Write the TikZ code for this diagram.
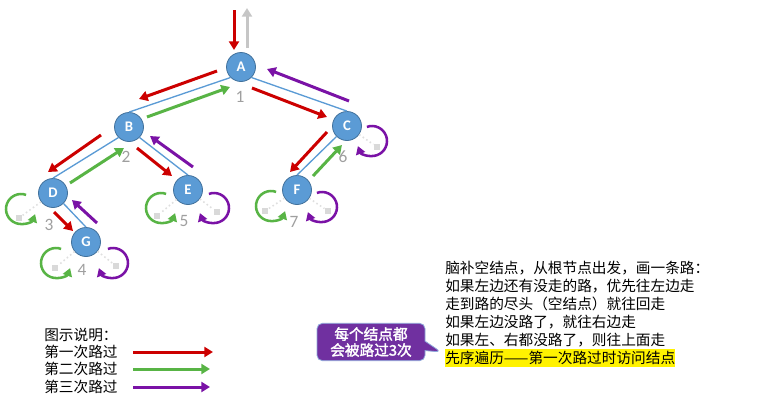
\documentclass[tikz,border=0pt]{standalone}
\usepackage{fontspec}
\setmainfont{Carlito}
\newfontfamily\cjk{Noto Sans CJK SC}
\newfontfamily\cjkbold[FakeBold=2]{Noto Sans CJK SC}
\usepackage{xcolor}
\usetikzlibrary{arrows.meta, calc, positioning, shapes.callouts}

\definecolor{nodeblue}{HTML}{5B9BD5}
\definecolor{nodeline}{HTML}{41719C}
\definecolor{passred}{HTML}{CC0000}
\definecolor{passgreen}{HTML}{58B445}
\definecolor{passpurple}{HTML}{7A12A6}
\definecolor{calloutfill}{HTML}{7030A0}
\definecolor{calloutline}{HTML}{8EA9DB}

\newcommand{\hilite}[1]{{\setlength{\fboxsep}{0pt}\colorbox{yellow}{\rule[-3pt]{0pt}{13.5pt}#1}}}

\tikzset{
    treenode/.style={circle, fill=nodeblue, draw=nodeline, line width=0.6pt, minimum size=21.75pt, inner sep=0pt, text=white, font=\bfseries\fontsize{11}{11}\selectfont},
    road/.style={draw=nodeblue, line width=1pt},
    pass/.style={line width=2.25pt, -{Triangle[length=6.5pt,width=7.5pt]}},
    firstpass/.style={pass, draw=passred},
    secondpass/.style={pass, draw=passgreen},
    thirdpass/.style={pass, draw=passpurple},
    leave/.style={pass, draw=gray!45},
    loop/.style={line width=1.9pt, -{Triangle[length=6pt,width=7pt]}},
    nullroad/.style={draw=gray!25, dotted, line width=1.2pt},
    nullbox/.style={fill=gray!30, minimum size=5pt, inner sep=0pt},
    count/.style={text=gray!75, font=\fontsize{13}{13}\selectfont},
    words/.style={font=\cjk\fontsize{11}{13.5}\selectfont, inner sep=0pt, align=left}
}

\begin{document}
\begin{tikzpicture}[x=0.75pt, y=-0.75pt]
    \useasboundingbox (0,0) rectangle (782,400);

    % tree
    \node[treenode] (A) at (241,67) {A};
    \node[treenode] (B) at (129,127) {B};
    \node[treenode] (C) at (347,126) {C};
    \node[treenode] (D) at (53,193) {D};
    \node[treenode] (E) at (188,190) {E};
    \node[treenode] (F) at (297,190) {F};
    \node[treenode] (G) at (86,242) {G};

    \draw[road] (A.225) -- (B.north);
    \draw[road] (A.315) -- (C.north);
    \draw[road] (B.225) -- (D.north);
    \draw[road] (B.315) -- (E.north);
    \draw[road] (D.315) -- (G.north);
    \draw[road] (C.225) -- (F.north);

    % visit counts
    \node[count] (n1) at ($(A)+(-1,30)$) {1};
    \node[count] (n2) at ($(B)+(-3,30)$) {2};
    \node[count] (n3) at ($(D)+(-4,32)$) {3};
    \node[count] (n4) at ($(G)+(-4,28)$) {4};
    \node[count] (n5) at ($(E)+(-4,31)$) {5};
    \node[count] (n6) at ($(C)+(-4,31)$) {6};
    \node[count] (n7) at ($(F)+(-3,32)$) {7};

    % empty children
    \node[nullbox] (Dl) at ($(D)+(-34,25)$) {};
    \node[nullbox] (Gl) at ($(G)+(-31,26)$) {};
    \node[nullbox] (Gr) at ($(G)+(30,24)$) {};
    \node[nullbox] (El) at ($(E)+(-31,26)$) {};
    \node[nullbox] (Er) at ($(E)+(29,22)$) {};
    \node[nullbox] (Fl) at ($(F)+(-32,21)$) {};
    \node[nullbox] (Fr) at ($(F)+(31,21)$) {};
    \node[nullbox] (Cr) at ($(C)+(30,21)$) {};

    \draw[nullroad] (D) -- (Dl);
    \draw[nullroad] (G) -- (Gl);
    \draw[nullroad] (G) -- (Gr);
    \draw[nullroad] (E) -- (El);
    \draw[nullroad] (E) -- (Er);
    \draw[nullroad] (F) -- (Fl);
    \draw[nullroad] (F) -- (Fr);
    \draw[nullroad] (C) -- (Cr);

    \draw[loop, draw=passgreen] ($(D)+(-32,16)+(290:15)$) arc[start angle=290, end angle=20, radius=15];
    \draw[loop, draw=passgreen] ($(G)+(-30,21)+(290:15)$) arc[start angle=290, end angle=20, radius=15];
    \draw[loop, draw=passgreen] ($(E)+(-27,18)+(290:15)$) arc[start angle=290, end angle=20, radius=15];
    \draw[loop, draw=passgreen] ($(F)+(-26,16)+(290:15)$) arc[start angle=290, end angle=20, radius=15];
    \draw[loop, draw=passpurple] ($(G)+(27,21)+(250:15)$) arc[start angle=250, end angle=520, radius=15];
    \draw[loop, draw=passpurple] ($(E)+(26,18)+(250:15)$) arc[start angle=250, end angle=520, radius=15];
    \draw[loop, draw=passpurple] ($(F)+(25,17)+(250:15)$) arc[start angle=250, end angle=520, radius=15];
    \draw[loop, draw=passpurple] ($(C)+(25,15)+(250:15)$) arc[start angle=250, end angle=520, radius=15];

    % walking the roads
    \draw[firstpass] ($(A)+(-7,-57)$) -- ($(A)+(-7,-17)$);
    \draw[leave] ($(A)+(6,-19)$) -- ($(A)+(6,-59)$);
    \draw[firstpass] ($(A)+(-24,4)$) -- ($(B)+(10,-28)$);
    \draw[secondpass] ($(B)+(18,-10)$) -- ($(A)+(-11,20)$);
    \draw[firstpass] ($(A)+(11,21)$) -- ($(C)+(-20,-9)$);
    \draw[thirdpass] ($(C)+(2,-25)$) -- ($(A)+(26,2)$);
    \draw[firstpass] ($(B)+(-28,8)$) -- ($(D)+(-5,-21)$);
    \draw[secondpass] ($(D)+(17,-10)$) -- ($(B)+(-5,21)$);
    \draw[firstpass] ($(B)+(8,21)$) -- ($(E)+(-16,-14)$);
    \draw[thirdpass] ($(E)+(5,-23)$) -- ($(B)+(21,9)$);
    \draw[firstpass] ($(D)+(1,19)$) -- ($(G)+(-13,-11)$);
    \draw[thirdpass] ($(G)+(11,-19)$) -- ($(D)+(19,7)$);
    \draw[firstpass] ($(C)+(-20,6)$) -- ($(F)+(-7,-18)$);
    \draw[secondpass] ($(F)+(16,-14)$) -- ($(C)+(-5,19)$);

    % legend
    \node[words, anchor=base west] (key) at (44,340) {图示说明：};
    \node[words, anchor=base west] (key1) at (44,357) {第一次路过};
    \node[words, anchor=base west] (key2) at (44,374) {第二次路过};
    \node[words, anchor=base west] (key3) at (44,392) {第三次路过};
    \coordinate (k1) at (133,352);
    \coordinate (k2) at (133,369);
    \coordinate (k3) at (133,387);
    \draw[firstpass] (k1) -- ++(80,0);
    \draw[secondpass] (k2) -- ++(77,0);
    \draw[thirdpass] (k3) -- ++(77,0);

    % notes
    \node[words, anchor=base west] (note) at (445,363) {脑补空结点，从根节点出发，画一条路：\\
        如果左边还有没走的路，优先往左边走\\
        走到路的尽头（空结点）就往回走\\
        如果左边没路了，就往右边走\\
        如果左、右都没路了，则往上面走\\
        \hilite{先序遍历——第一次路过时访问结点}};

    \node[rectangle callout, callout absolute pointer={(441,352)}, rounded corners=4pt,
        fill=calloutfill, draw=calloutline, line width=0.6pt, text=white,
        minimum width=81pt, minimum height=28pt, inner sep=2pt, align=center,
        font=\cjkbold\fontsize{11}{12}\selectfont] (say) at (371,342) {每个结点都\\会被路过3次};
\end{tikzpicture}
\end{document}
